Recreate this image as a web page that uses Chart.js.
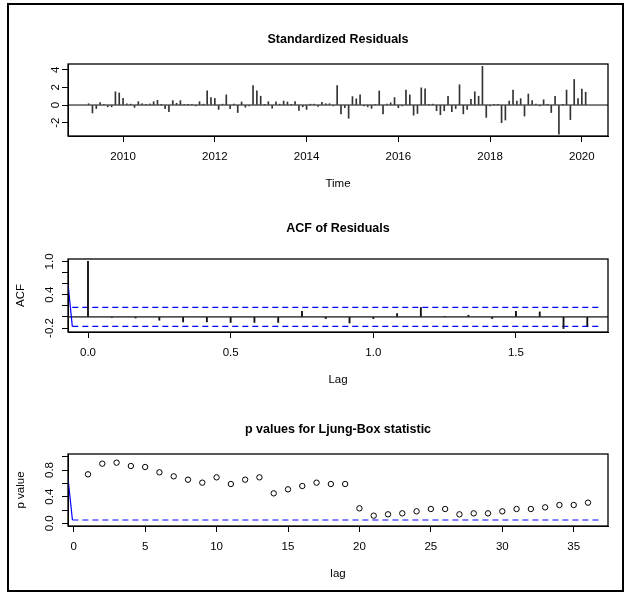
<!DOCTYPE html>
<html>
<head>
<meta charset="utf-8">
<script src="https://cdn.jsdelivr.net/npm/chart.js@4.4.1/dist/chart.umd.min.js"></script>
<style>
  body { margin: 0; background: #fff; }
  #wrap { position: relative; width: 629px; height: 595px; }
  #frame { position: absolute; left: 7px; top: 3px; width: 613px; height: 585px; border: 2px solid #000; }
  canvas { position: absolute; left: 0; top: 0; }
</style>
</head>
<body>
<div id="wrap">
  <div id="frame"></div>
  <canvas id="resChart" width="629" height="595"></canvas>
  <canvas id="acfChart" width="629" height="595"></canvas>
  <canvas id="lbChart" width="629" height="595"></canvas>
</div>
<script>
// standardized residuals, monthly from Apr 2009
const residStart = 2009.25;
const residuals = [
  0.15, -0.9, -0.4, 0.27, 0.05, -0.2, -0.2, 1.5, 1.37, 0.75, 0.15, 0.1,
  -0.27, 0.38, 0.15, 0.02, 0.12, 0.38, 0.53, 0.02, -0.42, -0.76, 0.5, 0.2,
  0.5, 0.03, 0.02, 0.03, -0.1, 0.38, 0.1, 1.6, 0.85, 0.75, -0.5, 0.1,
  1.15, -0.4, 0.1, -0.85, 0.35, -0.25, -0.1, 2.2, 1.6, 1.0, 0.02, 0.38,
  -0.35, 0.35, 0.1, 0.45, 0.35, 0.03, 0.38, -0.62, -0.2, -0.5, 0.1, 0.1,
  -0.15, 0.3, 0.15, 0.15, -0.1, 2.2, -1.0, -0.3, -1.5, 0.95, 0.7, 1.15,
  -0.1, -0.2, -0.38, 0.05, 1.6, -1.0, 0.1, 0.25, 0.85, -0.3, -0.1, 1.7,
  1.15, -1.15, -0.95, 1.95, 1.85, 0.03, 0.1, -0.65, -1.1, -0.65, 1.0, -0.75,
  -0.4, 2.3, -1.0, -0.5, 0.65, 1.5, 1.0, 4.38, -1.4, -0.1, 0.02, 0.02,
  -2.0, -1.7, 0.45, 1.7, 0.45, 0.72, -1.25, 1.25, 0.5, 0.1, -0.1, 0.6,
  0.02, -0.85, 1.0, -3.3, 0.02, 1.7, -1.65, 2.9, 0.72, 1.8, 1.45
];
const timeTicks = [2010, 2012, 2014, 2016, 2018, 2020];
const residYTicks = [-2, 0, 2, 4];

// ACF of residuals (lags in months, axis in years)
const acfLagMonths = [0, 1, 2, 3, 4, 5, 6, 7, 8, 9, 10, 11, 12, 13, 14, 15, 16, 17, 18, 19, 20, 21];
const acfValues = [1.0, -0.01, -0.02, -0.06, -0.09, -0.09, -0.1, -0.1, -0.1, 0.1, -0.03,
  -0.11, -0.03, 0.06, 0.17, 0.01, 0.03, -0.03, 0.1, 0.09, -0.21, -0.17];
const acfXTicks = [0, 0.5, 1.0, 1.5];
const acfYTicks = [-0.2, 0, 0.2, 0.4, 0.6, 0.8, 1.0];
const acfYLabels = [-0.2, 0.4, 1.0];
const acfCiSpan = [-0.055, 1.793];
const acfStub = [0.6, -0.171];

// Ljung-Box p values
const lbLags = [1, 2, 3, 4, 5, 6, 7, 8, 9, 10, 11, 12, 13, 14, 15, 16, 17, 18,
  19, 20, 21, 22, 23, 24, 25, 26, 27, 28, 29, 30, 31, 32, 33, 34, 35, 36];
const lbPValues = [0.735, 0.895, 0.91, 0.86, 0.845, 0.765, 0.705, 0.655, 0.61, 0.69, 0.59, 0.655,
  0.69, 0.45, 0.51, 0.56, 0.61, 0.59, 0.59, 0.225, 0.115, 0.135, 0.15, 0.18,
  0.215, 0.215, 0.135, 0.15, 0.15, 0.18, 0.215, 0.215, 0.24, 0.275, 0.275, 0.31];
const lbXTicks = [0, 5, 10, 15, 20, 25, 30, 35];
const lbYTicks = [0, 0.2, 0.4, 0.6, 0.8, 1.0];
const lbYLabels = [0, 0.4, 0.8];
const lbSigLevel = 0.05;
const lbCiSpan = [-0.09, 36.8];
const lbStub = [0.675, 0.05];

const FONT = '"Liberation Sans", Arial, Helvetica, sans-serif';
const ciBound = 1.96 / Math.sqrt(residuals.length);

// R-style decorations: box, rotated y labels, titles
const rPanel = {
  id: 'rPanel',
  beforeDatasetsDraw(chart, args, o) {
    if (!o.zeroColor) return;
    const ctx = chart.ctx, a = chart.chartArea;
    const y0 = chart.scales.y.getPixelForValue(0);
    ctx.save();
    ctx.strokeStyle = o.zeroColor;
    ctx.lineWidth = o.zeroWidth;
    ctx.beginPath();
    ctx.moveTo(a.left, y0);
    ctx.lineTo(a.right, y0);
    ctx.stroke();
    ctx.restore();
  },
  afterDraw(chart, args, o) {
    const ctx = chart.ctx, a = chart.chartArea;
    const xs = chart.scales.x, ys = chart.scales.y;
    ctx.save();
    ctx.strokeStyle = '#000';
    ctx.lineWidth = 1.3;
    ctx.strokeRect(a.left, a.top, a.right - a.left, a.bottom - a.top);

    ctx.fillStyle = '#000';
    ctx.textAlign = 'center';
    ctx.textBaseline = 'middle';
    ctx.font = '11.5px ' + FONT;
    xs.ticks.forEach(t => {
      ctx.fillText(o.xFmt(t.value), xs.getPixelForValue(t.value), a.bottom + 20.5);
    });
    ys.ticks.forEach(t => {
      if (!o.yShow.some(v => Math.abs(v - t.value) < 1e-9)) return;
      ctx.save();
      ctx.translate(o.yLabelX, ys.getPixelForValue(t.value));
      ctx.rotate(-Math.PI / 2);
      ctx.fillText(o.yFmt(t.value), 0, 0);
      ctx.restore();
    });

    ctx.fillText(o.xTitle, (a.left + a.right) / 2, a.bottom + 48);
    if (o.yTitle) {
      ctx.save();
      ctx.translate(21, (a.top + a.bottom) / 2);
      ctx.rotate(-Math.PI / 2);
      ctx.fillText(o.yTitle, 0, 0);
      ctx.restore();
    }
    ctx.font = 'bold 12.5px ' + FONT;
    ctx.fillText(o.title, (a.left + a.right) / 2, o.titleY);
    ctx.restore();
  }
};

function axis(min, max, ticks, extra) {
  return Object.assign({
    type: 'linear',
    min: min,
    max: max,
    offset: false,
    afterBuildTicks: s => { s.ticks = ticks.map(v => ({ value: v })); },
    ticks: { display: false },
    grid: { display: true, drawOnChartArea: false, drawTicks: true, tickLength: 6, color: '#000', lineWidth: 1, offset: false },
    border: { display: true, color: '#000', width: 1 }
  }, extra || {});
}

function baseOptions(top, bottom, xAxis, yAxis, deco) {
  return {
    responsive: false,
    animation: false,
    layout: { padding: { left: 62, right: 21, top: top, bottom: 595 - bottom - 6 } },
    plugins: { legend: { display: false }, tooltip: { enabled: false }, rPanel: deco },
    scales: {
      x: Object.assign(xAxis, { afterFit: s => { s.height = 6; } }),
      y: Object.assign(yAxis, { afterFit: s => { s.width = 6; } })
    }
  };
}

// panel 1: standardized residuals
new Chart(document.getElementById('resChart'), {
  type: 'bar',
  data: {
    datasets: [{
      data: residuals.map((v, i) => ({ x: residStart + i / 12, y: v })),
      backgroundColor: '#333',
      borderWidth: 0,
      barThickness: 1
    }]
  },
  options: baseOptions(64, 136,
    axis(2008.80, 2020.57, timeTicks),
    axis(-3.51, 4.65, residYTicks),
    {
      title: 'Standardized Residuals', titleY: 40,
      xTitle: 'Time', yTitle: '', yLabelX: 56,
      xFmt: v => String(v), yFmt: v => String(v), yShow: residYTicks,
      zeroColor: '#000', zeroWidth: 1
    }),
  plugins: [rPanel]
});

// panel 2: ACF of residuals
new Chart(document.getElementById('acfChart'), {
  type: 'bar',
  data: {
    datasets: [{
      type: 'bar',
      data: acfLagMonths.map((m, i) => ({ x: m / 12, y: acfValues[i] })),
      backgroundColor: '#111',
      borderWidth: 0,
      barThickness: 1.2
    }, {
      type: 'line',
      data: [{ x: acfCiSpan[0], y: ciBound }, { x: acfCiSpan[1], y: ciBound }],
      borderColor: '#0000ff', borderWidth: 1.2, borderDash: [6, 4], pointRadius: 0
    }, {
      type: 'line',
      data: [{ x: acfCiSpan[0], y: -ciBound }, { x: acfCiSpan[1], y: -ciBound }],
      borderColor: '#0000ff', borderWidth: 1.2, borderDash: [6, 4], pointRadius: 0
    }, {
      type: 'line',
      data: [{ x: -0.0701, y: acfStub[0] }, { x: acfCiSpan[0], y: acfStub[1] }],
      borderColor: '#0000ff', borderWidth: 1.2, pointRadius: 0
    }]
  },
  options: baseOptions(259, 332,
    axis(-0.0701, 1.8226, acfXTicks),
    axis(-0.272, 1.043, acfYTicks),
    {
      title: 'ACF of Residuals', titleY: 229,
      xTitle: 'Lag', yTitle: 'ACF', yLabelX: 49.5,
      xFmt: v => v.toFixed(1), yFmt: v => v.toFixed(1), yShow: acfYLabels,
      zeroColor: '#555', zeroWidth: 1.6
    }),
  plugins: [rPanel]
});

// panel 3: Ljung-Box p values
new Chart(document.getElementById('lbChart'), {
  type: 'scatter',
  data: {
    datasets: [{
      data: lbLags.map((l, i) => ({ x: l, y: lbPValues[i] })),
      pointStyle: 'circle',
      pointRadius: 2.7,
      pointBorderColor: '#000',
      pointBackgroundColor: 'rgba(0,0,0,0)',
      pointBorderWidth: 1
    }, {
      type: 'line',
      data: [{ x: lbCiSpan[0], y: lbSigLevel }, { x: lbCiSpan[1], y: lbSigLevel }],
      borderColor: '#0000ff', borderWidth: 1.2, borderDash: [6, 4], pointRadius: 0
    }, {
      type: 'line',
      data: [{ x: -0.4, y: lbStub[0] }, { x: lbCiSpan[0], y: lbStub[1] }],
      borderColor: '#0000ff', borderWidth: 1.2, pointRadius: 0
    }]
  },
  options: baseOptions(454, 526,
    axis(-0.4, 37.4, lbXTicks),
    axis(-0.04, 1.04, lbYTicks),
    {
      title: 'p values for Ljung-Box statistic', titleY: 430,
      xTitle: 'lag', yTitle: 'p value', yLabelX: 49.5,
      xFmt: v => String(v), yFmt: v => v.toFixed(1), yShow: lbYLabels,
      zeroColor: null
    }),
  plugins: [rPanel]
});
</script>
</body>
</html>
